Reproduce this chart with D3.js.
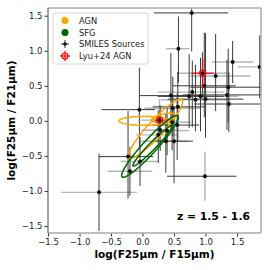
<!DOCTYPE html>
<html>
<head>
<meta charset="utf-8">
<script src="https://cdn.jsdelivr.net/npm/d3@7"></script>
<style>
body { margin: 0; background: #fff; }
text { font-family: "DejaVu Sans", sans-serif; }
</style>
</head>
<body>
<div id="chart"></div>
<script>
// SMILES sources: log(F25/F15), log(F25/F21) with [lo, hi] errors
var srcX = [0.78, 0.57, 0.95, 1.43, 1.86, 1.16, 0.98, 1.36, 0.79, 0.74, 0.92, 1.34, 0.45, 0.84, 1.00, 1.37,
            -0.05, 0.48, 0.56, 0.27, 0.55, 0.39, 0.47, 0.28, 0.25, 0.37, 0.50, -0.23, -0.20, -0.04, -0.69, 0.99];
var srcY = [1.54, 1.03, 0.68, 0.84, 0.77, 0.64, 0.50, 0.48, 0.41, 0.35, 0.35, 0.37, 0.36, 0.30, 0.31, 0.24,
            0.16, 0.18, 0.20, 0.01, -0.06, -0.14, -0.02, -0.13, -0.20, -0.29, -0.29, -0.51, -0.72, -0.58, -1.02, -0.79];
var srcXerr = [[0.6,0.58],[0.2,0.18],[0.4,0.4],[0.33,0.33],[0.35,0.3],[0.4,0.55],[0.5,0.5],[0.6,0.6],
               [0.55,0.5],[0.5,0.55],[0.6,0.6],[0.7,0.6],[0.5,0.45],[0.55,0.5],[0.6,0.6],[0.55,0.55],
               [0.6,0.25],[0.45,0.45],[0.4,0.45],[0.3,0.3],[0.4,0.35],[0.35,0.35],[0.3,0.3],[0.3,0.3],
               [0.35,0.3],[0.4,0.35],[0.35,0.3],[0.46,0.4],[0.35,0.35],[0.3,0.3],[0.6,0.6],[0.6,0.5]];
var srcYerr = [[0.55,0.55],[0.48,0.46],[0.35,0.3],[0.3,0.3],[0.45,0.45],[0.5,0.6],[0.45,0.76],[0.5,0.55],
               [0.5,0.45],[0.45,0.6],[0.5,0.55],[0.5,0.5],[0.5,0.61],[0.45,0.5],[0.55,0.94],[0.4,0.45],
               [0.55,0.6],[0.4,0.45],[0.5,0.5],[0.3,0.3],[0.5,0.45],[0.35,0.35],[0.4,0.4],[0.3,0.35],
               [0.4,0.35],[0.45,0.4],[0.6,0.45],[0.6,0.65],[0.35,0.35],[0.35,0.35],[0.55,0.55],[0.35,0.35]];
// which error bars are drawn faint (x, y)
var srcXfaint = [0,1,1,1,1,1,0,0,1,0,1,0,0,1,0,0,0,1,0,1,0,1,1,1,1,1,0,0,1,1,1,0];
var srcYfaint = [0,0,0,0,0,0,0,0,0,0,0,0,0,0,0,0,0,0,0,1,0,0,0,0,0,0,0,0,0,0,0,1];

// Lyu+24 AGN
var lyuX = [0.955, 0.27];
var lyuY = [0.68, 0.01];
var lyuXerr = [0.18, 0.08];
var lyuYerr = [0.21, 0.05];

// density contours: centre, half major axis vector, half minor axis vector (data units)
var agnContours = [
  [0.206, -0.114, 0.42, 0.414, 0.094, -0.077],
  [0.032, 0.0, 0.405, 0.0, 0.0, 0.064],
  [0.33, 0.045, 0.19, 0.04, 0.01, -0.05]
];
var sfgContours = [
  [0.119, -0.364, 0.444, 0.436, 0.081, -0.067],
  [0.159, -0.357, 0.31, 0.286, 0.041, -0.034]
];

var xTicks = [-1.5, -1.0, -0.5, 0.0, 0.5, 1.0, 1.5];
var yTicks = [-1.5, -1.0, -0.5, 0.0, 0.5, 1.0, 1.5];
var legendLabels = ["AGN", "SFG", "SMILES Sources", "Lyu+24 AGN"];
var zLabel = "z = 1.5 - 1.6";

var W = 270, H = 270;
var margin = {top: 8, right: 9, bottom: 37, left: 48};

var svg = d3.select("#chart").append("svg")
    .attr("width", W).attr("height", H);

var x = d3.scaleLinear().domain([-1.5, 1.88]).range([margin.left, W - margin.right]);
var y = d3.scaleLinear().domain([-1.6, 1.61]).range([H - margin.bottom, margin.top]);

svg.append("clipPath").attr("id", "clip").append("rect")
    .attr("x", margin.left).attr("y", margin.top)
    .attr("width", W - margin.left - margin.right)
    .attr("height", H - margin.top - margin.bottom);

var plot = svg.append("g").attr("clip-path", "url(#clip)");

var fmt = function(d) { return d3.format(".1f")(d).replace("-", "\u2212"); };

// error bars, faint first
function bars(faint) {
  var col = faint ? "#b4b4b4" : "#3a3a3a";
  var sw = faint ? 1.4 : 1;
  srcX.forEach(function(d, i) {
    if (srcXfaint[i] == faint)
      plot.append("line")
        .attr("x1", x(d - srcXerr[i][0])).attr("x2", x(d + srcXerr[i][1]))
        .attr("y1", y(srcY[i])).attr("y2", y(srcY[i]))
        .style("stroke", col).style("stroke-width", sw);
    if (srcYfaint[i] == faint)
      plot.append("line")
        .attr("x1", x(d)).attr("x2", x(d))
        .attr("y1", y(srcY[i] - srcYerr[i][0])).attr("y2", y(srcY[i] + srcYerr[i][1]))
        .style("stroke", col).style("stroke-width", sw);
  });
}
bars(1);
bars(0);

// contours
var line = d3.line().curve(d3.curveLinearClosed);
function ellipse(c) {
  var pts = d3.range(0, 72).map(function(k) {
    var t = k / 72 * 2 * Math.PI;
    return [x(c[0] + c[2] * Math.cos(t) + c[4] * Math.sin(t)),
            y(c[1] + c[3] * Math.cos(t) + c[5] * Math.sin(t))];
  });
  return line(pts);
}
plot.selectAll(".agn").data(agnContours).enter().append("path")
    .attr("d", ellipse).style("fill", "none")
    .style("stroke", "orange").style("stroke-width", 1.5);
plot.selectAll(".sfg").data(sfgContours).enter().append("path")
    .attr("d", ellipse).style("fill", "none")
    .style("stroke", "darkgreen").style("stroke-width", 1.5);

// points
plot.selectAll(".src").data(srcX).enter().append("circle")
    .attr("cx", function(d) { return x(d); })
    .attr("cy", function(d, i) { return y(srcY[i]); })
    .attr("r", 2).style("fill", "#111");

// Lyu+24
lyuX.forEach(function(d, i) {
  plot.append("line")
    .attr("x1", x(d - lyuXerr[i])).attr("x2", x(d + lyuXerr[i]))
    .attr("y1", y(lyuY[i])).attr("y2", y(lyuY[i]))
    .style("stroke", "red").style("stroke-width", 1.2);
  plot.append("line")
    .attr("x1", x(d)).attr("x2", x(d))
    .attr("y1", y(lyuY[i] - lyuYerr[i])).attr("y2", y(lyuY[i] + lyuYerr[i]))
    .style("stroke", "red").style("stroke-width", 1.2);
  plot.append("circle").attr("cx", x(d)).attr("cy", y(lyuY[i])).attr("r", 3)
    .style("fill", "none").style("stroke", "red").style("stroke-width", 1.2);
  plot.append("circle").attr("cx", x(d)).attr("cy", y(lyuY[i])).attr("r", 1.6)
    .style("fill", "#111");
});

// axes
var xAxis = svg.append("g")
    .attr("transform", "translate(0," + (H - margin.bottom) + ")")
    .call(d3.axisBottom(x).tickValues(xTicks).tickFormat(fmt).tickSize(3.5).tickPadding(2));
var yAxis = svg.append("g")
    .attr("transform", "translate(" + margin.left + ",0)")
    .call(d3.axisLeft(y).tickValues(yTicks).tickFormat(fmt).tickSize(3.5).tickPadding(2));
[xAxis, yAxis].forEach(function(a) {
  a.select(".domain").remove();
  a.selectAll("text").style("font-size", "8.5px").style("fill", "#222")
    .style("font-family", "DejaVu Sans");
  a.selectAll("line").style("stroke", "#333");
});

// frame
svg.append("line").attr("x1", x.range()[0]).attr("x2", x.range()[1])
  .attr("y1", margin.top).attr("y2", margin.top).style("stroke", "#aaa").style("stroke-width", 1.5);
svg.append("line").attr("x1", x.range()[0]).attr("x2", x.range()[1])
  .attr("y1", H - margin.bottom).attr("y2", H - margin.bottom).style("stroke", "#aaa").style("stroke-width", 1.5);
svg.append("line").attr("x1", W - margin.right).attr("x2", W - margin.right)
  .attr("y1", margin.top).attr("y2", H - margin.bottom).style("stroke", "#aaa").style("stroke-width", 1.5);
svg.append("line").attr("x1", margin.left).attr("x2", margin.left)
  .attr("y1", margin.top).attr("y2", H - margin.bottom).style("stroke", "#444").style("stroke-width", 1);

// labels
svg.append("text").attr("x", (margin.left + W - margin.right) / 2).attr("y", 258)
  .attr("text-anchor", "middle").style("font-weight", "bold").style("font-size", "10.5px")
  .text("log(F25\u03bcm / F15\u03bcm)");
svg.append("text").attr("transform", "translate(15," + ((margin.top + H - margin.bottom) / 2) + ") rotate(-90)")
  .attr("text-anchor", "middle").style("font-weight", "bold").style("font-size", "10.5px")
  .text("log(F25\u03bcm / F21\u03bcm)");
svg.append("text").attr("x", 250).attr("y", 220)
  .attr("text-anchor", "end").style("font-weight", "bold").style("font-size", "10.8px")
  .text(zLabel);

// legend
var lg = svg.append("g");
lg.append("rect").attr("x", 53).attr("y", 13).attr("width", 95).attr("height", 51).attr("rx", 2)
  .style("fill", "white").style("fill-opacity", 0.8).style("stroke", "#ccc").style("stroke-width", 0.8);
var ly = [20.5, 32.5, 44, 56];
lg.append("circle").attr("cx", 65).attr("cy", ly[0]).attr("r", 3.5).style("fill", "orange");
lg.append("circle").attr("cx", 65).attr("cy", ly[1]).attr("r", 3.5).style("fill", "darkgreen");
lg.append("line").attr("x1", 61).attr("x2", 69).attr("y1", ly[2]).attr("y2", ly[2]).style("stroke", "#333");
lg.append("line").attr("x1", 65).attr("x2", 65).attr("y1", ly[2] - 4).attr("y2", ly[2] + 4).style("stroke", "#333");
lg.append("circle").attr("cx", 65).attr("cy", ly[2]).attr("r", 1.8).style("fill", "#111");
lg.append("line").attr("x1", 60).attr("x2", 70).attr("y1", ly[3]).attr("y2", ly[3]).style("stroke", "red").style("stroke-width", 1.2);
lg.append("line").attr("x1", 65).attr("x2", 65).attr("y1", ly[3] - 5).attr("y2", ly[3] + 5).style("stroke", "red").style("stroke-width", 1.2);
lg.append("circle").attr("cx", 65).attr("cy", ly[3]).attr("r", 3).style("fill", "none").style("stroke", "red").style("stroke-width", 1.2);
lg.selectAll(".lt").data(legendLabels).enter().append("text")
  .attr("x", 79).attr("y", function(d, i) { return ly[i] + 3; })
  .style("font-size", "8.3px").style("fill", "#222").text(function(d) { return d; });
</script>
</body>
</html>
